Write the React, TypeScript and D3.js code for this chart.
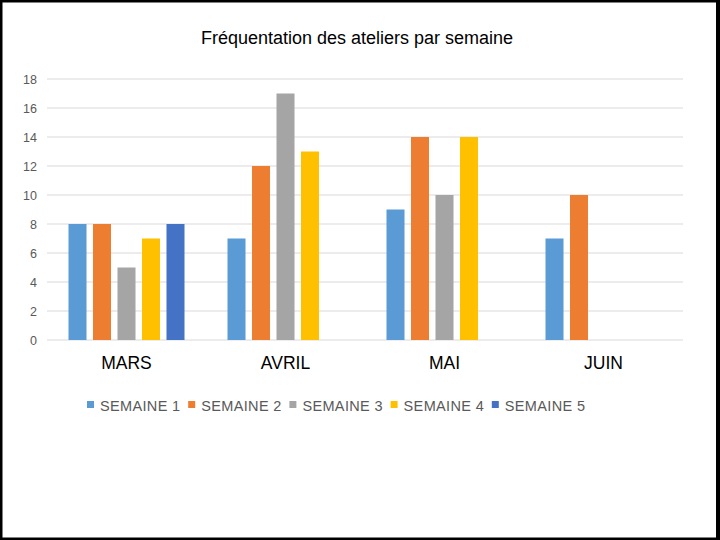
import React from "react";
import * as d3 from "d3";

const categories = ["MARS", "AVRIL", "MAI", "JUIN"];
const seriesNames = ["SEMAINE 1", "SEMAINE 2", "SEMAINE 3", "SEMAINE 4", "SEMAINE 5"];
const semaine1 = [8, 7, 9, 7];
const semaine2 = [8, 12, 14, 10];
const semaine3 = [5, 17, 10, null];
const semaine4 = [7, 13, 14, null];
const semaine5 = [8, null, null, null];
const seriesValues = [semaine1, semaine2, semaine3, semaine4, semaine5];
const colors = ["#5B9BD5", "#ED7D31", "#A5A5A5", "#FFC000", "#4472C4"];
const yTicks = [0, 2, 4, 6, 8, 10, 12, 14, 16, 18];
const title = "Fréquentation des ateliers par semaine";

const W = 720;
const H = 540;
const plotLeft = 47;
const plotRight = 683;
const plotTop = 79;
const plotBottom = 340;
const font = "'Liberation Sans', Arial, sans-serif";

export default function App() {
  const x0 = d3.scaleBand<string>().domain(categories).range([plotLeft, plotRight]).padding(0);
  const x1 = d3
    .scaleBand<string>()
    .domain(seriesNames)
    .range([21.5, x0.bandwidth() - 21.5])
    .paddingInner(0.265)
    .paddingOuter(0);
  const y = d3.scaleLinear().domain([0, 18]).range([plotBottom, plotTop]);

  const legendX0 = 87;
  const legendStep = 101.2;
  const legendY = 405;

  return (
    <svg
      width={W}
      height={H}
      style={{ position: "absolute", left: 0, top: 0 }}
      xmlns="http://www.w3.org/2000/svg"
    >
      <rect x={0} y={0} width={W} height={H} fill="#000" />
      <rect x={2.5} y={2.5} width={713.5} height={535} fill="#fff" />
      <text x={357} y={44} textAnchor="middle" fontFamily={font} fontSize={18} fill="#000">
        {title}
      </text>
      {yTicks.map((t) => (
        <g key={t}>
          <line x1={plotLeft} x2={plotRight} y1={y(t)} y2={y(t)} stroke="#D9D9D9" strokeWidth={1} />
          <text
            x={37}
            y={y(t) + 4.5}
            textAnchor="end"
            fontFamily={font}
            fontSize={12.5}
            fill="#595959"
          >
            {t}
          </text>
        </g>
      ))}
      {categories.map((c, ci) => (
        <g key={c} transform={`translate(${x0(c)},0)`}>
          {seriesValues.map((vals, si) => {
            const v = vals[ci];
            if (v == null) return null;
            return (
              <rect
                key={si}
                x={x1(seriesNames[si])}
                y={y(v)}
                width={x1.bandwidth()}
                height={y(0) - y(v)}
                fill={colors[si]}
              />
            );
          })}
          <text
            x={x0.bandwidth() / 2}
            y={369}
            textAnchor="middle"
            fontFamily={font}
            fontSize={17.5}
            fill="#000"
          >
            {c}
          </text>
        </g>
      ))}
      {seriesNames.map((s, i) => (
        <g key={s} transform={`translate(${legendX0 + i * legendStep},${legendY})`}>
          <rect x={0} y={-4} width={7} height={7} fill={colors[i]} />
          <text x={13} y={5.5} fontFamily={font} fontSize={14.5} letterSpacing={0.35} fill="#595959">
            {s}
          </text>
        </g>
      ))}
    </svg>
  );
}
